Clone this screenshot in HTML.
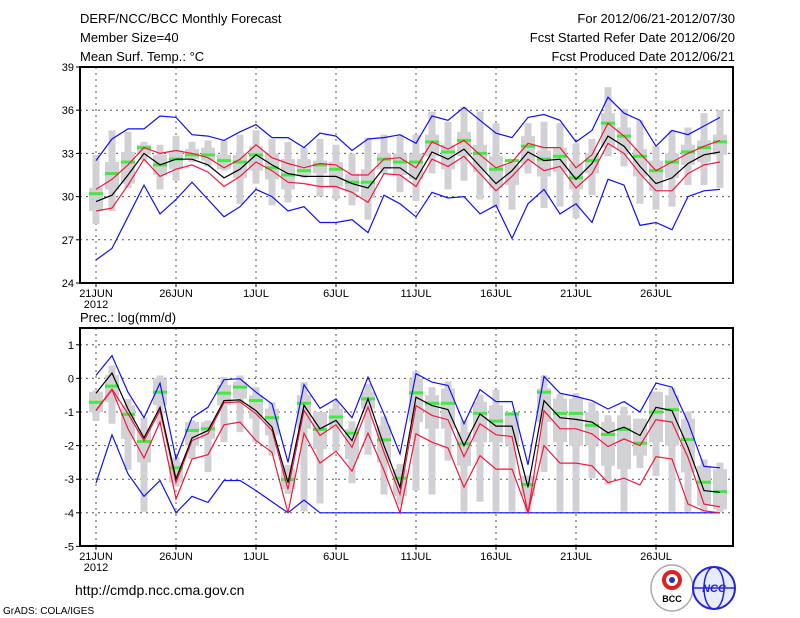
<!DOCTYPE html>
<html><head><meta charset="utf-8"><style>
body{margin:0;background:#fff;}
svg{display:block;font-family:"Liberation Sans",sans-serif;}
</style></head><body>
<svg id="chart" width="800" height="618" viewBox="0 0 800 618" xmlns="http://www.w3.org/2000/svg">
<rect width="800" height="618" fill="#fff"/>
<g font-size="13" fill="#000">
<text x="80" y="23">DERF/NCC/BCC Monthly Forecast</text>
<text x="80" y="42">Member Size=40</text>
<text x="80" y="61">Mean Surf. Temp.: °C</text>
<text x="735" y="23" text-anchor="end">For 2012/06/21-2012/07/30</text>
<text x="735" y="42" text-anchor="end">Fcst Started Refer Date 2012/06/20</text>
<text x="735" y="61" text-anchor="end">Fcst Produced Date 2012/06/21</text>
<text x="80" y="322">Prec.: log(mm/d)</text>
<text x="75" y="595" font-size="14">http://cmdp.ncc.cma.gov.cn</text>
<text x="3" y="614" font-size="10">GrADS: COLA/IGES</text>
</g>
<g>
<ellipse cx="672" cy="588" rx="21" ry="23" fill="#fff" stroke="#aaa" stroke-width="1.5"/>
<circle cx="672" cy="580" r="8" fill="none" stroke="#d22" stroke-width="4"/>
<circle cx="672" cy="580" r="3" fill="#23c"/>
<text x="672" y="602" font-size="9" text-anchor="middle" font-weight="bold">BCC</text>
</g>
<g>
<circle cx="714" cy="588" r="21" fill="#e8ecff" stroke="#22d" stroke-width="2"/>
<ellipse cx="714" cy="588" rx="10" ry="21" fill="none" stroke="#22d" stroke-width="1.5"/>
<line x1="693" y1="588" x2="735" y2="588" stroke="#22d" stroke-width="1.5"/>
<text x="714" y="592" font-size="11" text-anchor="middle" font-style="italic" font-weight="bold" fill="#22d">NCC</text>
</g>
</svg>
<script>
const days = 40;
const xTickLabels = ["21JUN","26JUN","1JUL","6JUL","11JUL","16JUL","21JUL","26JUL"];
const tempTicks = [24,27,30,33,36,39];
const precTicks = [-5,-4,-3,-2,-1,0,1];

const tMean = [29.65,30.1,31.5,33.0,32.2,32.6,32.6,32.2,31.3,31.9,32.9,32.2,31.6,31.4,31.4,31.4,30.9,30.6,32.0,32.0,31.2,33.1,32.6,33.3,32.1,30.9,31.8,33.1,32.5,32.6,31.2,32.3,34.2,33.5,32.1,30.9,31.3,32.3,32.9,33.1];
const tRedHi = [30.5,31.2,32.2,33.4,33.0,33.2,33.0,32.7,32.0,32.6,33.6,32.7,32.3,32.0,32.3,32.2,31.5,31.5,32.6,32.7,32.0,33.8,33.3,33.9,32.9,32.0,32.4,33.7,33.4,33.4,32.0,32.9,35.1,34.2,33.0,31.8,32.4,33.0,33.5,33.9];
const tRedLo = [29.0,29.2,30.8,32.6,31.4,31.9,32.2,31.7,30.7,31.4,32.4,31.8,31.0,30.9,30.7,30.7,30.3,29.6,31.6,31.5,30.7,32.6,32.1,32.8,31.6,30.4,31.4,32.6,31.8,32.1,30.6,31.6,33.7,33.0,31.6,30.4,30.4,31.6,32.2,32.4];
const tMax = [32.5,34.0,34.7,34.7,35.6,35.5,34.3,34.2,33.9,34.5,35.0,34.1,34.1,33.4,34.4,34.2,33.2,34.0,34.1,34.3,33.7,35.6,35.3,36.2,35.3,34.4,34.1,35.5,35.7,35.3,33.8,34.6,36.9,35.8,35.3,33.5,34.6,34.3,34.9,35.5];
const tMin = [25.6,26.4,28.6,30.8,28.8,29.8,31.0,29.8,28.6,29.3,30.5,30.0,29.0,29.3,28.2,28.2,28.4,27.5,30.1,29.5,28.6,30.3,29.9,30.0,28.8,29.4,27.1,29.5,30.5,28.8,29.5,28.2,31.2,30.8,28.0,28.2,27.7,30.0,30.4,30.5];
const tObs = [30.2,31.6,32.4,33.4,32.2,32.6,32.9,32.9,32.5,32.4,32.9,32.0,31.5,31.8,32.2,31.9,31.0,31.0,32.6,32.4,32.4,33.8,33.1,33.9,33.0,31.9,32.5,33.5,32.6,32.8,31.3,32.5,35.1,34.2,32.8,31.8,32.4,33.1,33.4,33.8];
const tBarTop = [32.9,34.6,34.5,33.8,33.6,34.2,33.8,33.9,33.9,34.3,34.6,34.0,33.8,33.4,34.0,33.6,33.0,34.1,34.3,34.3,34.3,35.9,35.2,36.2,35.9,35.1,32.6,35.1,35.2,35.1,33.7,34.0,37.6,36.1,35.3,33.5,34.6,34.8,35.8,36.0];
const tBarBot = [28.1,29.0,30.6,32.5,30.5,31.1,32.4,32.1,31.8,29.5,30.9,29.4,29.6,31.3,30.0,29.8,29.4,28.4,31.6,30.3,29.7,31.6,30.5,31.1,29.8,29.2,29.1,31.6,29.2,29.3,28.5,30.1,32.8,32.1,29.5,29.1,29.3,30.8,30.8,30.6];
const tBoxTop = [30.6,32.4,33.1,33.6,32.9,33.2,33.3,33.4,32.9,32.9,33.5,33.0,32.6,32.6,32.5,32.4,31.6,31.9,33.0,33.0,33.0,34.3,33.6,34.5,33.6,32.8,32.2,34.2,33.2,33.4,32.3,33.0,35.8,34.8,33.3,32.5,33.0,33.6,33.9,34.3];
const tBoxBot = [29.0,30.5,30.9,32.9,31.5,31.9,32.6,32.5,31.9,31.3,31.8,31.2,30.5,31.5,31.6,30.7,30.3,29.9,31.9,31.5,31.2,32.8,31.9,32.8,31.7,30.6,30.8,32.3,31.4,31.7,30.5,31.6,33.4,33.2,31.4,30.4,31.3,32.2,32.4,32.9];

const pMean = [-0.44,0.16,-0.91,-1.77,-0.86,-2.99,-1.77,-1.55,-0.66,-0.64,-0.96,-1.45,-3.1,-0.8,-1.5,-1.25,-1.85,-0.6,-2.0,-3.24,-0.56,-0.81,-0.93,-2.0,-1.06,-1.42,-1.42,-3.24,-0.66,-1.17,-1.22,-1.3,-1.62,-1.45,-1.7,-0.86,-0.96,-2.05,-3.34,-3.39];
const pRedHi = [-0.95,-0.32,-1.05,-1.85,-0.95,-3.1,-1.85,-1.65,-0.72,-0.7,-1.05,-1.55,-3.3,-0.95,-1.7,-1.38,-2.05,-0.85,-2.2,-3.45,-0.81,-1.1,-1.23,-2.33,-1.35,-1.68,-1.73,-4.0,-0.96,-1.5,-1.5,-1.65,-2.03,-1.8,-2.0,-1.23,-1.3,-2.35,-3.74,-3.82];
const pRedLo = [-0.96,-0.34,-1.5,-2.37,-1.3,-3.59,-2.4,-2.27,-1.38,-1.3,-1.85,-2.2,-4.0,-1.63,-2.52,-2.17,-2.76,-1.63,-2.74,-4.0,-1.65,-1.9,-2.07,-3.24,-2.3,-2.7,-2.7,-4.0,-2.0,-2.52,-2.52,-2.6,-3.1,-2.97,-3.17,-2.33,-2.4,-3.74,-3.94,-4.0];
const pMax = [0.09,0.68,-0.41,-1.17,-0.14,-2.4,-1.17,-0.86,-0.04,-0.01,-0.41,-0.76,-2.5,-0.19,-0.89,-0.61,-1.17,0.04,-1.06,-2.25,0.14,-0.11,-0.21,-1.35,-0.33,-0.69,-0.69,-2.57,0.06,-0.44,-0.54,-0.66,-0.91,-0.69,-1.0,-0.14,-0.26,-1.3,-2.62,-2.66];
const pMin = [-3.12,-1.68,-2.84,-3.51,-3.04,-4.0,-3.51,-3.69,-3.04,-3.04,-3.34,-3.67,-4.0,-3.62,-4,-4,-4,-4,-4,-4,-4,-4,-4,-4,-4,-4,-4,-4,-4,-4,-4,-4,-4,-4,-4,-4,-4,-4,-4,-4];
const pObs = [-0.71,-0.23,-1.07,-1.88,-0.41,-2.66,-1.55,-1.5,-0.44,-0.26,-0.66,-1.17,-3.01,-0.74,-1.52,-1.15,-1.63,-0.61,-1.83,-2.97,-0.43,-0.74,-0.74,-1.95,-1.04,-1.27,-1.06,-3.16,-0.41,-1.04,-1.04,-1.4,-1.67,-1.52,-1.93,-1.0,-0.93,-1.82,-3.09,-3.37];
const pBarTop = [-0.36,0.38,-0.61,-1.17,0.09,-2.35,-1.25,-1.25,0.04,0.09,-0.26,-0.71,-2.57,-0.11,-1.06,-0.69,-1.28,-0.16,-1.13,-2.55,0.21,-0.26,-0.09,-1.25,-0.48,-0.34,-1.0,-2.89,0.09,-0.46,-0.44,-0.71,-1.1,-0.84,-1.2,-0.39,-0.28,-0.98,-2.41,-2.51];
const pBarBot = [-1.27,-1.35,-2.72,-3.97,-1.4,-3.22,-2.4,-2.79,-1.9,-1.6,-1.9,-2.3,-3.44,-3.96,-3.72,-2.17,-3.12,-2.27,-3.46,-3.76,-3.34,-3.46,-2.45,-3.97,-3.67,-3.97,-3.97,-3.97,-2.79,-3.97,-3.97,-2.97,-3.16,-3.97,-2.67,-2.91,-3.97,-3.97,-3.97,-3.97];
const pBoxTop = [-0.4,0.1,-0.8,-1.5,0.0,-2.5,-1.3,-1.3,-0.2,-0.1,-0.5,-0.9,-2.7,-0.5,-1.0,-0.9,-1.5,-0.4,-1.4,-2.7,0.0,-0.5,-0.3,-1.6,-0.7,-0.8,-1.0,-2.9,-0.3,-0.6,-0.6,-1.0,-1.3,-1.1,-1.2,-0.4,-0.5,-1.2,-2.6,-2.7];
const pBoxBot = [-1.0,-0.7,-1.8,-2.5,-0.8,-3.1,-2.0,-1.8,-0.8,-0.6,-1.2,-1.7,-3.3,-1.5,-2.1,-1.5,-2.4,-0.9,-2.5,-3.5,-1.3,-1.5,-1.5,-2.6,-1.9,-1.9,-2.0,-3.5,-1.3,-1.9,-2.0,-2.0,-2.6,-2.7,-2.3,-1.9,-2.0,-2.8,-3.8,-3.9];

const NS = "http://www.w3.org/2000/svg";
const svg = document.getElementById("chart");
const X0 = 80, X1 = 733, DAY0 = 96, DX = 16;
function xOf(i){ return DAY0 + i*DX; }
function mk(tag, attrs, parent){
  const e = document.createElementNS(NS, tag);
  for (const k in attrs) e.setAttribute(k, attrs[k]);
  (parent||svg).appendChild(e);
  return e;
}

function drawPanel(p){
  const g = mk("g", {});
  
  
  const yOf = v => p.yTop + (p.vTop - v) * p.scale;
  // grid
  p.ticks.forEach(t => {
    const y = yOf(t);
    if (y > p.yTop + 1 && y < p.yBot - 1) {
      const gl = mk("line", {x1:X0, x2:X1, y1:y, y2:y, stroke:"#555", "stroke-width":1, "stroke-dasharray":"2,4"}, g);
      
      
    }
    const tk = mk("line", {x1:X0-4, x2:X0, y1:y, y2:y, stroke:"#000"}, g);
    
    
    const tl = mk("text", {x:X0-6, y:y+4, "font-size":11, "text-anchor":"end"}, g);
    tl.textContent = t;
    
    
  });
  xTickLabels.forEach((lab, k) => {
    const x = xOf(k*5);
    const gl = mk("line", {x1:x, x2:x, y1:p.yTop, y2:p.yBot, stroke:"#555", "stroke-width":1, "stroke-dasharray":"2,4"}, g);
    
    
    const tk = mk("line", {x1:x, x2:x, y1:p.yBot, y2:p.yBot+4, stroke:"#000"}, g);
    
    
    const tl = mk("text", {x:x, y:p.yBot+14, "font-size":11, "text-anchor":"middle"}, g);
    tl.textContent = lab;
    
    
  });
  const yr = mk("text", {x:xOf(0), y:p.yBot+25, "font-size":11, "text-anchor":"middle"}, g);
  yr.textContent = "2012";
  
  
  // gray bars
  for (let i=0;i<days;i++){
    const x = xOf(i);
    const b = mk("rect", {x:x-3.5, width:7, y:yOf(p.barTop[i]), height:yOf(p.barBot[i])-yOf(p.barTop[i]), fill:"#d2d2d6"}, g);
    
    
    const bx = mk("rect", {x:x-7, width:14, y:yOf(p.boxTop[i]), height:yOf(p.boxBot[i])-yOf(p.boxTop[i]), fill:"#d2d2d6"}, g);
    
    
  }
  // green dashes
  for (let i=0;i<days;i++){
    const x = xOf(i);
    const d = mk("rect", {x:x-7, width:14, y:yOf(p.obs[i])-1.5, height:3, fill:"#44e844"}, g);
    
    
  }
  const line = (arr, color, name) => {
    const pts = arr.map((v,i) => xOf(i)+","+yOf(v).toFixed(1)).join(" ");
    const l = mk("polyline", {points:pts, fill:"none", stroke:color, "stroke-width":1.2}, g);
    
    
  };
  line(p.max, "#1010f0", "max-line");
  line(p.min, "#1010f0", "min-line");
  line(p.redHi, "#f0183c", "upper-red-line");
  line(p.redLo, "#f0183c", "lower-red-line");
  line(p.mean, "#000", "mean-line");
  const fr = mk("rect", {x:X0, y:p.yTop, width:X1-X0, height:p.yBot-p.yTop, fill:"none", stroke:"#000", "stroke-width":2}, g);
  
  
}

drawPanel({name:"temperature-panel", yTop:67, yBot:283, vTop:39, scale:14.4, ticks:tempTicks,
  mean:tMean, redHi:tRedHi, redLo:tRedLo, max:tMax, min:tMin, obs:tObs,
  barTop:tBarTop, barBot:tBarBot, boxTop:tBoxTop, boxBot:tBoxBot});
drawPanel({name:"precipitation-panel", yTop:328, yBot:546, vTop:1.5, scale:33.6, ticks:precTicks,
  mean:pMean, redHi:pRedHi, redLo:pRedLo, max:pMax, min:pMin, obs:pObs,
  barTop:pBarTop, barBot:pBarBot, boxTop:pBoxTop, boxBot:pBoxBot});
</script>
</body></html>
